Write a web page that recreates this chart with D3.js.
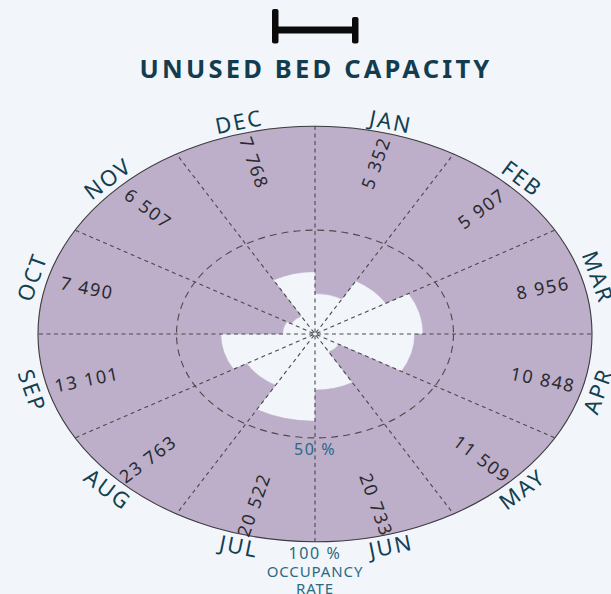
<!DOCTYPE html>
<html>
<head>
<meta charset="utf-8">
<script src="https://cdn.jsdelivr.net/npm/d3@7"></script>
<style>
    html, body { margin: 0; padding: 0; background: #f2f6fb; }
    #chart-area { width: 611px; height: 594px; }
    text { font-family: "Noto Sans", sans-serif; }
</style>
</head>
<body>
<div id="chart-area"></div>
<script>

// month labels, clockwise from the top
const months = ["JAN", "FEB", "MAR", "APR", "MAY", "JUN", "JUL", "AUG", "SEP", "OCT", "NOV", "DEC"];

// unused beds per month (number printed in each sector)
const unusedBeds = [5352, 5907, 8956, 10848, 11509, 20733, 20522, 23763, 13101, 7490, 6507, 7768];

// occupancy rate per month (radius of the light inner wedge)
const occupancy = [0.195, 0.295, 0.39, 0.36, 0.10, 0.27, 0.42, 0.285, 0.34, 0.117, 0.10, 0.30];

// reference rings on the occupancy axis
const ringTicks = [0.5, 1];
const ringLabels = ["50 %", "100 %"];


/* * * * * * * * * * * * * *
*     RadialCapacityVis    *
* * * * * * * * * * * * * */

class RadialCapacityVis {

    constructor(parentElement) {
        this.parentElement = parentElement;
        this.squash = 0.75;   // chart is drawn as a flattened circle
        this.initVis();
    }

    initVis() {
        let vis = this;

        vis.width = 611;
        vis.height = 594;
        vis.cx = 315;
        vis.cy = 334;

        vis.svg = d3.select("#" + vis.parentElement).append("svg")
            .attr("width", vis.width)
            .attr("height", vis.height);

        vis.svg.append("rect")
            .attr("width", vis.width)
            .attr("height", vis.height)
            .attr("fill", "#f2f6fb");

        // radius scale: occupancy 0..100% -> pixels
        vis.r = d3.scaleLinear()
            .domain([0, 1])
            .range([0, 277]);

        // angle scale: month index -> radians, clockwise from 12 o'clock
        vis.angle = d3.scaleLinear()
            .domain([0, months.length])
            .range([0, 2 * Math.PI]);

        vis.fmt = d3.formatLocale({decimal: ".", thousands: " ", grouping: [3], currency: ["", ""]}).format(",d");

        vis.drawHeader();
        vis.wrangleData();
    }

    drawHeader() {
        let vis = this;

        // little range icon above the title
        let icon = vis.svg.append("g").attr("fill", "#0b0b0b");
        icon.append("rect").attr("x", 272).attr("y", 9).attr("width", 6.5).attr("height", 34.5).attr("rx", 2);
        icon.append("rect").attr("x", 352).attr("y", 17).attr("width", 6.5).attr("height", 26.5).attr("rx", 2);
        icon.append("rect").attr("x", 277).attr("y", 26.5).attr("width", 77).attr("height", 7);

        vis.svg.append("text")
            .attr("x", 316)
            .attr("y", 78)
            .attr("text-anchor", "middle")
            .attr("fill", "#133d4f")
            .style("font-size", "25.5px")
            .style("font-weight", "700")
            .style("letter-spacing", "3.2px")
            .text("UNUSED BED CAPACITY");
    }

    wrangleData() {
        let vis = this;

        vis.displayData = months.map((m, i) => ({
            month: m,
            beds: unusedBeds[i],
            occ: occupancy[i],
            start: vis.angle(i),
            end: vis.angle(i + 1),
            mid: vis.angle(i + 0.5)
        }));

        vis.updateVis();
    }

    // polar -> screen, with the vertical squash applied
    point(a, rad) {
        return [this.cx + rad * Math.sin(a), this.cy - this.squash * rad * Math.cos(a)];
    }

    updateVis() {
        let vis = this;

        // purple bands: from occupancy out to 100 %
        let arc = d3.arc()
            .innerRadius(d => vis.r(d.occ))
            .outerRadius(vis.r(1))
            .startAngle(d => d.start)
            .endAngle(d => d.end);

        vis.svg.append("g")
            .attr("transform", `translate(${vis.cx},${vis.cy}) scale(1,${vis.squash})`)
            .selectAll(".band")
            .data(vis.displayData)
            .enter().append("path")
            .attr("class", "band")
            .attr("d", arc)
            .attr("fill", "#bdaeca")
            .attr("stroke", "#bdaeca")
            .attr("stroke-width", 0.6);

        // 50 % ring
        vis.svg.append("ellipse")
            .attr("cx", vis.cx).attr("cy", vis.cy)
            .attr("rx", vis.r(ringTicks[0]))
            .attr("ry", vis.squash * vis.r(ringTicks[0]))
            .attr("fill", "none")
            .attr("stroke", "#4a4a4a")
            .attr("stroke-width", 1.1)
            .attr("stroke-dasharray", "7,5");

        // radial month dividers
        let line = d3.line();
        vis.svg.append("g").selectAll(".divider")
            .data(d3.range(months.length))
            .enter().append("path")
            .attr("class", "divider")
            .attr("d", i => line([vis.point(vis.angle(i), 2), vis.point(vis.angle(i), vis.r(1))]))
            .attr("stroke", "#4a4a4a")
            .attr("stroke-width", 1.1)
            .attr("stroke-dasharray", "4,3.5");

        // outer edge (100 %)
        vis.svg.append("ellipse")
            .attr("cx", vis.cx).attr("cy", vis.cy)
            .attr("rx", vis.r(1))
            .attr("ry", vis.squash * vis.r(1))
            .attr("fill", "none")
            .attr("stroke", "#3d3d3d")
            .attr("stroke-width", 1.1);

        // screen angle (deg) of a direction given in polar coords
        let dirAngle = (dx, dy) => Math.atan2(dy, dx) * 180 / Math.PI;

        // unused bed numbers, written along the radius
        vis.svg.append("g").selectAll(".value")
            .data(vis.displayData)
            .enter().append("text")
            .attr("class", "value")
            .attr("transform", d => {
                let p = vis.point(d.mid, 236);
                let rot = dirAngle(Math.sin(d.mid), -vis.squash * Math.cos(d.mid));
                if (d.mid > Math.PI) rot += 180;
                return `translate(${p[0]},${p[1]}) rotate(${rot})`;
            })
            .attr("text-anchor", "middle")
            .attr("dy", "0.35em")
            .attr("fill", "#2a2a2e")
            .style("font-size", "18px")
            .style("letter-spacing", "1.6px")
            .text(d => vis.fmt(d.beds));

        // month names, along the outer edge
        vis.svg.append("g").selectAll(".month")
            .data(vis.displayData)
            .enter().append("text")
            .attr("class", "month")
            .attr("transform", d => {
                let p = vis.point(d.mid, 293);
                let rot = dirAngle(Math.cos(d.mid), vis.squash * Math.sin(d.mid));
                if (d.mid > Math.PI / 2 && d.mid < 3 * Math.PI / 2) rot += 180;
                return `translate(${p[0]},${p[1]}) rotate(${rot})`;
            })
            .attr("text-anchor", "middle")
            .attr("dy", "0.36em")
            .attr("fill", "#11404f")
            .style("font-size", "22px")
            .style("letter-spacing", "2px")
            .text(d => d.month);

        // ring labels under the bottom of each ring
        vis.svg.append("g").selectAll(".ring-label")
            .data(ringTicks)
            .enter().append("text")
            .attr("class", "ring-label")
            .attr("x", vis.cx)
            .attr("y", d => vis.cy + vis.squash * vis.r(d) + 11)
            .attr("dy", "0.36em")
            .attr("text-anchor", "middle")
            .attr("fill", "#2a6a83")
            .style("font-size", "16px")
            .style("letter-spacing", "1.6px")
            .text((d, i) => ringLabels[i]);

        vis.svg.append("text")
            .attr("x", vis.cx)
            .attr("y", 577)
            .attr("text-anchor", "middle")
            .attr("fill", "#2a6a83")
            .style("font-size", "15px")
            .style("letter-spacing", "0.9px")
            .text("OCCUPANCY");

        vis.svg.append("text")
            .attr("x", vis.cx)
            .attr("y", 593.5)
            .attr("text-anchor", "middle")
            .attr("fill", "#2a6a83")
            .style("font-size", "15px")
            .style("letter-spacing", "0.9px")
            .text("RATE");
    }
}

new RadialCapacityVis("chart-area");

</script>
</body>
</html>
